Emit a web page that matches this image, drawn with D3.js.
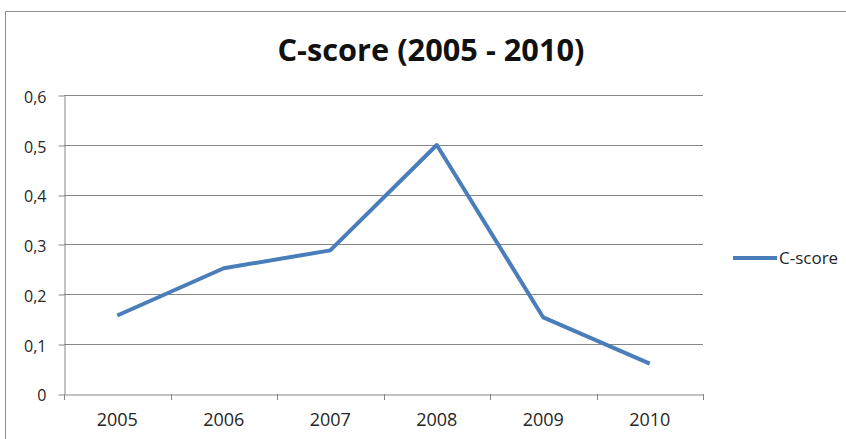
<!DOCTYPE html>
<html><head><meta charset="utf-8">
<script src="https://cdn.jsdelivr.net/npm/d3@7"></script>
<style>body{margin:0;background:#fff}svg{display:block}</style>
</head><body>
<script>
const categories = ["2005","2006","2007","2008","2009","2010"];
const cscore = [0.157, 0.252, 0.288, 0.5, 0.153, 0.06];
const yTicks = [0, 0.1, 0.2, 0.3, 0.4, 0.5, 0.6];
const seriesName = "C-score";
const title = "C-score (2005 - 2010)";

const W = 846, H = 439;
const FONT = "'Open Sans', sans-serif";
const TXT = "#262626";
const svg = d3.select("body").append("svg").attr("width", W).attr("height", H);
svg.append("rect").attr("x",0).attr("y",0).attr("width",W).attr("height",H).attr("fill","#fff");
// chart border
svg.append("path").attr("d",`M5.5,${H} V11.5 H${W}`).attr("fill","none").attr("stroke","#8c8c8c").attr("stroke-width",1);

const m = {left:64, right:703, top:95.3, bottom:393.5};
const x = d3.scaleBand().domain(categories).range([m.left, m.right]).paddingInner(0).paddingOuter(0);
const y = d3.scaleLinear().domain([0,0.6]).range([m.bottom, m.top]);
const fmt = v => v===0 ? "0" : d3.format(".1f")(v).replace(".", ",");

// gridlines
svg.append("g").selectAll("line").data(yTicks.filter(d=>d>0)).join("line")
  .attr("x1", m.left).attr("x2", m.right)
  .attr("y1", d=>Math.round(y(d))+0.5).attr("y2", d=>Math.round(y(d))+0.5)
  .attr("stroke","#868686").attr("stroke-width",1);

// y axis
const yAxis = svg.append("g").attr("transform",`translate(${m.left+0.5},0)`)
  .call(d3.axisLeft(y).tickValues(yTicks).tickFormat(fmt).tickSize(6).tickPadding(12).tickSizeOuter(0));
yAxis.selectAll("line").attr("stroke","#868686").attr("transform", d=>`translate(0,${Math.round(y(d))+0.5-y(d)})`);
yAxis.select(".domain").attr("stroke","#868686");
yAxis.selectAll("text").attr("font-family",FONT).attr("font-size",16).attr("fill",TXT).attr("dy","0.45em");

// x axis
const xAxis = svg.append("g").attr("transform",`translate(0,${Math.round(m.bottom)+0.5})`)
  .call(d3.axisBottom(x).tickSize(0).tickPadding(19));
xAxis.select(".domain").attr("stroke","#868686");
xAxis.selectAll("text").attr("font-family",FONT).attr("font-size",18).attr("fill",TXT);
// category boundary ticks
const bounds = categories.map(c=>x(c)).concat([m.right]);
svg.append("g").selectAll("line").data(bounds).join("line")
  .attr("x1", d=>Math.round(d)+0.5).attr("x2", d=>Math.round(d)+0.5)
  .attr("y1", Math.round(m.bottom)).attr("y2", Math.round(m.bottom)+6)
  .attr("stroke","#868686");

// line
const line = d3.line().x((d,i)=>x(categories[i])+x.bandwidth()/2).y(d=>y(d));
svg.append("path").datum(cscore).attr("d", line).attr("fill","none")
  .attr("stroke","#4a7ebb").attr("stroke-width",4).attr("stroke-linejoin","round");

// title
svg.append("text").attr("x",431).attr("y",61).attr("text-anchor","middle")
  .attr("font-family",FONT).attr("font-weight","bold").attr("font-size",31)
  .attr("textLength",307).attr("lengthAdjust","spacingAndGlyphs")
  .attr("fill","#111").text(title);

// legend
svg.append("line").attr("x1",733).attr("x2",777).attr("y1",258).attr("y2",258)
  .attr("stroke","#4a7ebb").attr("stroke-width",4);
svg.append("text").attr("x",779).attr("y",264).attr("font-family",FONT)
  .attr("font-size",17).attr("fill",TXT).text(seriesName);
</script>
</body></html>
